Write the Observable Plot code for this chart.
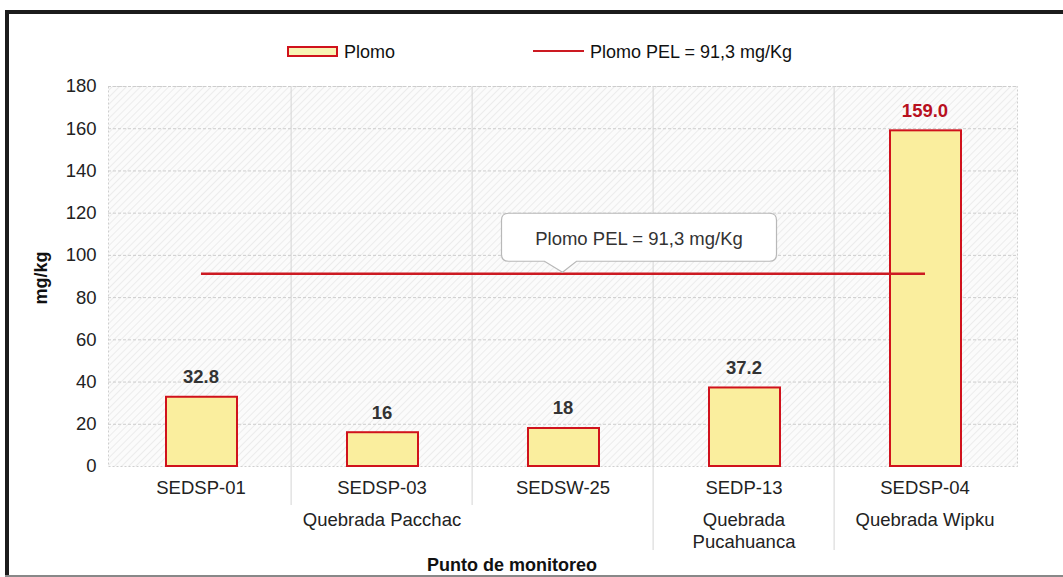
<!DOCTYPE html>
<html>
<head>
<meta charset="utf-8">
<script src="https://cdn.jsdelivr.net/npm/d3@7"></script>
<script src="https://cdn.jsdelivr.net/npm/@observablehq/plot@0.6"></script>
<style>
  body { margin: 0; background: #fff; font-family: "Liberation Sans", Arial, sans-serif; }
  #wrap { position: relative; width: 1063px; height: 577px; overflow: hidden; background: #fff; }
  .fr { position: absolute; background: #1c1c1c; }
  #legend { position: absolute; left: 0; top: 0; width: 1063px; height: 70px; font-size: 18px; color: #111; }
  .lg-rect { position: absolute; left: 287px; top: 46px; width: 47px; height: 7px; border: 2px solid #d0121c; background: #f8f4b4; }
  .lg-line { position: absolute; left: 533px; top: 50px; width: 51px; height: 2px; background: #cc1a22; }
  .lg-text { position: absolute; top: 41px; white-space: nowrap; line-height: 22px; }
  #chart { position: absolute; left: 0; top: 70px; }
  #ytitle { position: absolute; left: 41px; top: 278px; transform: translate(-50%, -50%) rotate(-90deg); font-weight: bold; font-size: 18px; color: #111; white-space: nowrap; }
  #xtitle { position: absolute; left: 512px; top: 565px; transform: translate(-50%, -50%); font-weight: bold; font-size: 18px; color: #111; white-space: nowrap; }
</style>
</head>
<body>
<div id="wrap">
  <div class="fr" style="left:5px;top:10px;width:1058px;height:4px;"></div>
  <div class="fr" style="left:5px;top:10px;width:4px;height:567px;"></div>
  <div class="fr" style="left:5px;top:575px;width:1058px;height:2px;background:#888;"></div>
  <div id="legend">
    <div class="lg-rect"></div><div class="lg-text" style="left:344px;">Plomo</div>
    <div class="lg-line"></div><div class="lg-text" style="left:590px;">Plomo PEL = 91,3 mg/Kg</div>
  </div>
  <div id="chart"></div>
  <div id="ytitle">mg/kg</div>
  <div id="xtitle">Punto de monitoreo</div>
</div>
<script>
// ---- data ----
const stations = ["SEDSP-01", "SEDSP-03", "SEDSW-25", "SEDP-13", "SEDSP-04"];
const plomo = [32.8, 16, 18, 37.2, 159.0];
const plomoLabels = ["32.8", "16", "18", "37.2", "159.0"];
const stationGroup = ["Quebrada Pacchac", "Quebrada Pacchac", "Quebrada Pacchac", "Quebrada\nPucahuanca", "Quebrada Wipku"];
const PEL = 91.3;
const pelLabel = "Plomo PEL = 91,3 mg/Kg";
const pelAnchor = "SEDSW-25";
const yTicks = [0, 20, 40, 60, 80, 100, 120, 140, 160, 180];

const table = stations.map((s, i) => ({station: s, value: plomo[i], label: plomoLabels[i], group: stationGroup[i]}));
const groupLabels = d3.groups(table, d => d.group).map(([g, items]) => ({group: g, station: items[Math.floor(items.length / 2)].station}));
const seps = stations.slice(1).map((s, i) => ({station: s, long: stationGroup[i] !== stationGroup[i + 1]}));

const W = 1063, H = 505, mL = 108, mR = 46, mT = 16, mB = 109;
const bw = (W - mL - mR) / stations.length;
const plotH = H - mT - mB;
const RED = "#d0121c";

function callout(index, scales) {
  const cx = scales.x(pelAnchor) + scales.x.bandwidth() / 2;
  const cy = scales.y(PEL);
  const left = cx - 61, right = cx + 214, bottom = cy - 12, top = bottom - 48, r = 7;
  const p = `M${left + r},${top} H${right - r} Q${right},${top} ${right},${top + r} V${bottom - r} Q${right},${bottom} ${right - r},${bottom} H${cx + 14} L${cx},${cy - 1} L${cx - 18},${bottom} H${left + r} Q${left},${bottom} ${left},${bottom - r} V${top + r} Q${left},${top} ${left + r},${top} Z`;
  const g = d3.create("svg:g");
  g.append("path").attr("d", p).attr("fill", "#fff").attr("stroke", "#b8b8b8").attr("stroke-width", 1.2);
  g.append("text").attr("x", (left + right) / 2).attr("y", (top + bottom) / 2 + 1).attr("dy", "0.35em")
    .attr("text-anchor", "middle").attr("font-size", 18.5).attr("fill", "#333").text(pelLabel);
  return g.node();
}

const chart = Plot.plot({
  width: W, height: H,
  marginLeft: mL, marginRight: mR, marginTop: mT, marginBottom: mB,
  style: {fontFamily: "Liberation Sans, Arial, sans-serif", fontSize: "18.5px", color: "#222", background: "transparent"},
  x: {domain: stations, padding: 0, label: null, tickSize: 0, tickPadding: 14},
  y: {domain: [0, 180], ticks: yTicks, label: null, tickSize: 0, tickPadding: 12},
  marks: [
    Plot.frame({fill: "url(#hatch)", stroke: "#cfcfcf", strokeDasharray: "2,2"}),
    Plot.ruleY(yTicks.slice(1), {stroke: "#cdcdcd", strokeDasharray: "3,2"}),
    Plot.ruleX(stations.slice(1), {dx: -bw / 2, stroke: "#d4d4d4"}),
    Plot.ruleX(seps.filter(d => !d.long), {x: "station", dx: -bw / 2, insetTop: plotH, insetBottom: -39, stroke: "#d4d4d4"}),
    Plot.ruleX(seps.filter(d => d.long), {x: "station", dx: -bw / 2, insetTop: plotH, insetBottom: -84, stroke: "#d4d4d4"}),
    Plot.barY(table, {x: "station", y: "value", fill: "#faee9e", stroke: RED, strokeWidth: 2, insetLeft: 56, insetRight: 54}),
    Plot.link([PEL], {x1: () => stations[0], x2: () => stations[stations.length - 1], y1: d => d, y2: d => d, stroke: "#cc1a22", strokeWidth: 2.5}),
    Plot.text(table, {x: "station", y: "value", text: "label", dy: -20, fontWeight: "bold", fontSize: 18.5,
      fill: d => d.value > PEL ? "#b8101e" : "#333"}),
    Plot.text(groupLabels, {x: "station", y: () => 0, text: "group", dy: 44, lineAnchor: "top", lineHeight: 1.2, fontSize: 18.5, fill: "#222"}),
    callout
  ]
});

d3.select(chart).insert("defs", ":first-child").html(
  `<pattern id="hatch" patternUnits="userSpaceOnUse" width="5" height="5" patternTransform="rotate(45)">
     <rect width="5" height="5" fill="#fbfbfb"/>
     <line x1="0" y1="0" x2="0" y2="5" stroke="#e6e6e6" stroke-width="1.4"/>
   </pattern>`);

document.getElementById("chart").appendChild(chart);
</script>
</body>
</html>
